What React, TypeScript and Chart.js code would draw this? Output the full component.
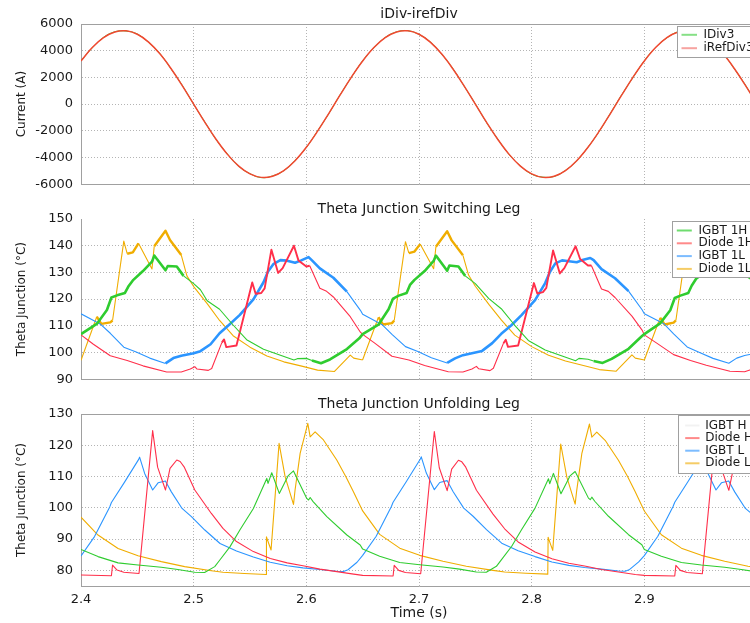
import React, { useEffect, useRef } from 'react';
import { Chart, registerables } from 'chart.js';
Chart.register(...registerables);

const FONT = "'DejaVu Sans', Verdana, sans-serif";
const TEXT = '#1a1a1a';
const GRID = '#b4b4b4';
const AXIS = '#a0a0a0';
Chart.defaults.font.family = FONT;

// ---------- axes ----------
const xTicks = [2.4, 2.5, 2.6, 2.7, 2.8, 2.9];
const currentTicks = [-6000, -4000, -2000, 0, 2000, 4000, 6000];
const switchTicks = [90, 100, 110, 120, 130, 140, 150];
const unfoldTicks = [80, 90, 100, 110, 120, 130];

// ---------- panel 1 : iDiv-irefDiv ----------
const currentTime = [
  2.40, 2.41, 2.42, 2.43, 2.44, 2.45, 2.46, 2.47, 2.48, 2.49, 2.50, 2.51, 2.52, 2.53, 2.54, 2.55, 2.56, 2.57, 2.58, 2.59,
  2.60, 2.61, 2.62, 2.63, 2.64, 2.65, 2.66, 2.67, 2.68, 2.69, 2.70, 2.71, 2.72, 2.73, 2.74, 2.75, 2.76, 2.77, 2.78, 2.79,
  2.80, 2.81, 2.82, 2.83, 2.84, 2.85, 2.86, 2.87, 2.88, 2.89, 2.90, 2.91, 2.92, 2.93, 2.94, 2.95, 2.96, 2.97, 2.98, 2.99, 3.00,
];
const iRefDiv3 = [
  3233, 4238, 4976, 5403, 5489, 5231, 4644, 3765, 2650, 1368, 0, -1368, -2650, -3765, -4644, -5231, -5489, -5403, -4976, -4238,
  -3233, -2025, -689, 689, 2025, 3233, 4238, 4976, 5403, 5489, 5231, 4644, 3765, 2650, 1368, 0, -1368, -2650, -3765, -4644,
  -5231, -5489, -5403, -4976, -4238, -3233, -2025, -689, 689, 2025, 3233, 4238, 4976, 5403, 5489, 5231, 4644, 3765, 2650, 1368, 0,
];
const iDiv3 = [
  3260, 4210, 5000, 5420, 5470, 5250, 4620, 3790, 2630, 1390, -20, -1350, -2670, -3740, -4660, -5210, -5510, -5380, -4990, -4220,
  -3250, -2000, -710, 700, 2010, 3250, 4220, 4990, 5410, 5500, 5220, 4660, 3750, 2670, 1350, 20, -1390, -2630, -3780, -4630,
  -5250, -5470, -5420, -4960, -4250, -3220, -2040, -670, 710, 2000, 3250, 4250, 4960, 5420, 5470, 5250, 4630, 3780, 2630, 1390, -20,
];

// ---------- panel 2 : Theta Junction Switching Leg ----------
const igbt1hT = [
  2.400, 2.414, 2.423, 2.427, 2.432, 2.439, 2.442, 2.446, 2.455, 2.463, 2.465, 2.475, 2.477, 2.485, 2.491, 2.500, 2.506, 2.512, 2.523, 2.535, 2.547, 2.562, 2.577, 2.589, 2.592, 2.600, 2.605, 2.613, 2.621, 2.636, 2.647,
  2.650, 2.664, 2.673, 2.677, 2.682, 2.689, 2.692, 2.696, 2.705, 2.713, 2.715, 2.725, 2.727, 2.735, 2.741, 2.750, 2.756, 2.762, 2.773, 2.785, 2.797, 2.812, 2.827, 2.839, 2.842, 2.850, 2.855, 2.863, 2.871, 2.886, 2.897,
  2.900, 2.914, 2.923, 2.927, 2.932, 2.939, 2.942, 2.946, 2.955, 2.963, 2.965, 2.975, 2.977, 2.985, 2.991, 3.000,
];
const igbt1hV = [
  106.9, 110.7, 115.9, 120.6, 121.4, 122.3, 124.7, 127.0, 130.5, 134.0, 136.3, 130.8, 132.4, 132.2, 128.7, 125.8, 123.5, 119.4, 116.2, 110.3, 104.8, 101.2, 99.0, 97.2, 97.7, 97.8, 97.0, 96.0, 97.4, 101.3, 105.3,
  106.9, 110.4, 116.2, 120.2, 121.3, 122.3, 125.3, 127.2, 130.5, 134.3, 136.3, 130.6, 132.6, 132.2, 128.7, 125.8, 123.0, 120.2, 116.4, 110.2, 104.5, 100.9, 98.7, 96.9, 97.8, 97.5, 96.8, 96.1, 97.6, 101.4, 105.8,
  106.9, 110.9, 115.8, 120.4, 121.3, 122.3, 125.0, 127.6, 130.6, 134.1, 136.2, 130.8, 132.5, 132.2, 128.4, 125.8,
];
const diode1hT = [
  2.400, 2.411, 2.426, 2.441, 2.455, 2.476, 2.489, 2.497, 2.501, 2.503, 2.513, 2.516, 2.525, 2.527, 2.529, 2.538, 2.552, 2.555, 2.560, 2.563, 2.569, 2.575, 2.579, 2.589, 2.593, 2.600, 2.603, 2.612, 2.618, 2.624, 2.639, 2.648,
  2.650, 2.661, 2.676, 2.691, 2.705, 2.726, 2.739, 2.747, 2.751, 2.753, 2.763, 2.766, 2.775, 2.777, 2.779, 2.788, 2.802, 2.805, 2.810, 2.813, 2.819, 2.825, 2.829, 2.839, 2.843, 2.850, 2.853, 2.862, 2.868, 2.874, 2.889, 2.898,
  2.900, 2.911, 2.926, 2.941, 2.955, 2.976, 2.989, 2.997, 3.000,
];
const diode1hV = [
  106.6, 103.1, 98.8, 97.0, 95.0, 92.7, 92.7, 93.8, 94.7, 93.8, 93.3, 94.0, 103.7, 104.9, 102.0, 102.6, 126.2, 122.0, 122.3, 124.0, 138.5, 129.8, 131.6, 140.0, 134.5, 132.2, 132.5, 124.1, 122.9, 120.8, 113.4, 107.6,
  106.8, 103.4, 98.6, 97.2, 95.1, 92.8, 92.7, 93.8, 94.8, 93.9, 93.2, 94.1, 103.5, 104.8, 102.1, 102.6, 126.0, 122.1, 122.6, 124.2, 138.2, 129.6, 131.6, 139.8, 135.0, 132.6, 132.6, 123.8, 122.9, 120.6, 113.6, 108.4,
  106.6, 103.5, 99.2, 97.0, 95.2, 93.0, 92.8, 93.9, 94.5,
];
const igbt1lT = [
  2.400, 2.417, 2.426, 2.438, 2.449, 2.461, 2.475, 2.482, 2.489, 2.500, 2.506, 2.515, 2.523, 2.532, 2.541, 2.553, 2.562, 2.566, 2.571, 2.577, 2.583, 2.590, 2.595, 2.602, 2.605, 2.612, 2.624, 2.636, 2.648,
  2.650, 2.667, 2.676, 2.688, 2.699, 2.711, 2.725, 2.732, 2.739, 2.750, 2.756, 2.765, 2.773, 2.782, 2.791, 2.803, 2.812, 2.816, 2.821, 2.827, 2.833, 2.840, 2.845, 2.852, 2.855, 2.862, 2.874, 2.886, 2.898,
  2.900, 2.917, 2.926, 2.938, 2.949, 2.961, 2.975, 2.982, 2.989, 3.000,
];
const igbt1lV = [
  114.5, 110.7, 107.2, 102.0, 100.2, 97.9, 95.9, 97.9, 98.8, 99.7, 100.5, 103.1, 107.2, 110.6, 114.1, 119.9, 126.3, 130.3, 133.2, 134.6, 134.4, 133.6, 134.4, 135.7, 134.5, 131.5, 128.0, 122.8, 115.8,
  114.3, 110.5, 106.8, 102.2, 100.4, 98.0, 96.1, 97.8, 99.0, 100.0, 100.6, 103.5, 107.0, 110.2, 114.0, 119.6, 126.0, 130.0, 133.4, 134.5, 134.2, 133.8, 134.6, 135.4, 134.6, 131.2, 127.8, 123.0, 116.0,
  114.5, 110.9, 107.0, 102.1, 100.0, 97.8, 96.0, 97.9, 98.9, 99.8,
];
const diode1lT = [
  2.400, 2.414, 2.418, 2.426, 2.428, 2.438, 2.441, 2.446, 2.451, 2.463, 2.465, 2.475, 2.479, 2.489, 2.494, 2.500, 2.512, 2.523, 2.535, 2.550, 2.565, 2.580, 2.595, 2.610, 2.625, 2.639, 2.642, 2.649,
  2.650, 2.664, 2.668, 2.676, 2.678, 2.688, 2.691, 2.696, 2.701, 2.713, 2.715, 2.725, 2.729, 2.739, 2.744, 2.750, 2.762, 2.773, 2.785, 2.800, 2.815, 2.830, 2.845, 2.860, 2.875, 2.889, 2.892, 2.899,
  2.900, 2.914, 2.918, 2.926, 2.928, 2.938, 2.941, 2.946, 2.951, 2.963, 2.965, 2.975, 2.979, 2.989, 2.994, 3.000,
];
const diode1lV = [
  97.1, 113.4, 110.7, 111.3, 112.0, 141.7, 137.0, 137.5, 140.9, 131.3, 139.8, 145.6, 142.1, 136.5, 128.7, 124.7, 118.3, 112.0, 106.3, 102.0, 98.7, 96.5, 95.0, 93.4, 92.9, 99.0, 97.9, 97.3,
  97.3, 113.2, 110.5, 111.0, 112.0, 141.5, 137.2, 137.8, 140.6, 131.4, 139.6, 145.4, 142.0, 136.4, 129.0, 124.8, 118.0, 112.2, 106.5, 102.2, 99.0, 96.8, 95.2, 93.6, 93.0, 99.1, 97.9, 97.3,
  97.2, 113.0, 110.5, 111.2, 112.0, 141.6, 137.0, 137.6, 140.7, 131.3, 139.7, 145.5, 142.0, 136.5, 128.8, 124.7,
];

// ---------- panel 3 : Theta Junction Unfolding Leg ----------
const igbtHT = [
  2.400, 2.4151, 2.4329, 2.4506, 2.4713, 2.486, 2.5009, 2.5097, 2.5187, 2.5234, 2.5323, 2.541, 2.553, 2.5649, 2.566, 2.5693, 2.576, 2.5812, 2.584, 2.5886, 2.6004, 2.602, 2.6034, 2.606, 2.6182, 2.636, 2.6478,
  2.650, 2.6651, 2.6829, 2.7006, 2.7213, 2.736, 2.7509, 2.7597, 2.7687, 2.7734, 2.7823, 2.791, 2.803, 2.8149, 2.816, 2.8193, 2.826, 2.8312, 2.834, 2.8386, 2.8504, 2.852, 2.8534, 2.856, 2.8682, 2.886, 2.8978,
  2.900, 2.9151, 2.9329, 2.9506, 2.9713, 2.986, 3.000,
];
const igbtHV = [
  86.7, 84.4, 82.4, 81.7, 81.0, 80.3, 79.4, 79.3, 81.2, 83.4, 87.6, 92.9, 99.8, 109.4, 107.8, 111.2, 104.6, 108.3, 110.3, 111.8, 103.0, 102.5, 103.3, 102.0, 97.2, 91.3, 88.1,
  86.8, 84.5, 82.5, 81.8, 81.1, 80.4, 79.5, 79.4, 81.3, 83.5, 87.7, 93.0, 99.9, 109.3, 107.7, 111.0, 104.5, 108.2, 110.2, 111.6, 103.1, 102.6, 103.4, 102.1, 97.3, 91.4, 88.2,
  86.7, 84.5, 82.5, 81.7, 81.0, 80.3, 79.5,
];
const diodeHT = [
  2.400, 2.427, 2.428, 2.432, 2.438, 2.4515, 2.4636, 2.468, 2.475, 2.479, 2.485, 2.488, 2.4915, 2.501, 2.5157, 2.526, 2.538, 2.553, 2.568, 2.583, 2.597, 2.612, 2.627, 2.642,
  2.650, 2.677, 2.678, 2.682, 2.688, 2.7015, 2.7136, 2.718, 2.725, 2.729, 2.735, 2.738, 2.7415, 2.751, 2.7657, 2.776, 2.788, 2.803, 2.818, 2.833, 2.847, 2.862, 2.877, 2.892,
  2.900, 2.927, 2.928, 2.932, 2.938, 2.9515, 2.9636, 2.968, 2.975, 2.979, 2.985, 2.988, 2.9915, 3.000,
];
const diodeHV = [
  78.5, 78.3, 81.7, 80.1, 79.4, 79.0, 124.7, 113.0, 105.7, 112.6, 115.3, 114.8, 113.1, 105.7, 98.2, 93.4, 89.2, 86.0, 83.8, 82.4, 81.5, 80.4, 79.6, 78.8,
  78.4, 78.2, 81.6, 80.0, 79.3, 78.9, 124.4, 112.8, 105.5, 112.4, 115.2, 114.7, 113.0, 105.6, 98.0, 93.3, 89.1, 85.9, 83.7, 82.3, 81.4, 80.3, 79.5, 78.7,
  78.4, 78.2, 81.6, 80.0, 79.3, 78.9, 124.6, 113.0, 105.6, 112.5, 115.2, 114.7, 113.0, 106.5,
];
const igbtLT = [
  2.400, 2.412, 2.4255, 2.427, 2.4388, 2.4512, 2.452, 2.4565, 2.4636, 2.4684, 2.4749, 2.4802, 2.4897, 2.498, 2.5099, 2.5234, 2.538, 2.553, 2.568, 2.583, 2.597, 2.612, 2.627, 2.633, 2.637, 2.645,
  2.650, 2.662, 2.6755, 2.677, 2.6888, 2.7012, 2.702, 2.7065, 2.7136, 2.7184, 2.7249, 2.7302, 2.7397, 2.748, 2.7599, 2.7734, 2.788, 2.803, 2.818, 2.833, 2.847, 2.862, 2.877, 2.883, 2.887, 2.895,
  2.900, 2.912, 2.9255, 2.927, 2.9388, 2.9512, 2.952, 2.9565, 2.9636, 2.9684, 2.9749, 2.9802, 2.9897, 3.000,
];
const igbtLV = [
  84.6, 90.8, 100.3, 101.7, 108.3, 115.5, 116.2, 111.0, 105.7, 108.0, 108.6, 105.1, 99.8, 97.2, 92.9, 88.6, 86.2, 84.3, 82.6, 81.5, 80.8, 80.3, 79.7, 79.6, 80.2, 82.6,
  84.8, 90.9, 100.4, 101.8, 108.4, 115.6, 116.3, 111.1, 105.8, 108.1, 108.7, 105.2, 99.9, 97.3, 93.0, 88.7, 86.3, 84.4, 82.7, 81.6, 80.9, 80.4, 79.8, 79.7, 80.3, 82.7,
  84.7, 90.9, 100.4, 101.8, 108.4, 115.5, 116.2, 111.0, 105.7, 108.0, 108.6, 105.1, 99.8, 96.7,
];
const diodeLT = [
  2.400, 2.4151, 2.4329, 2.4506, 2.4713, 2.492, 2.5157, 2.526, 2.545, 2.5643, 2.5646, 2.5667, 2.5687, 2.5758, 2.5812, 2.5886, 2.590, 2.5945, 2.6013, 2.6034, 2.6078, 2.6152, 2.627, 2.635, 2.6418,
  2.650, 2.6651, 2.6829, 2.7006, 2.7213, 2.742, 2.7657, 2.776, 2.795, 2.8143, 2.8146, 2.8167, 2.8187, 2.8258, 2.8312, 2.8386, 2.840, 2.8445, 2.8513, 2.8534, 2.8578, 2.8652, 2.877, 2.885, 2.8918,
  2.900, 2.9151, 2.9329, 2.9506, 2.9713, 2.992, 3.000,
];
const diodeLV = [
  97.0, 91.3, 87.0, 84.7, 82.8, 81.2, 79.9, 79.4, 79.0, 78.7, 90.7, 88.5, 86.5, 120.6, 109.9, 101.1, 105.7, 117.4, 127.0, 122.7, 124.3, 121.7, 115.3, 110.0, 105.1,
  99.0, 91.5, 87.1, 84.8, 82.9, 81.3, 80.0, 79.5, 79.1, 78.8, 90.6, 88.4, 86.4, 120.4, 109.8, 101.2, 105.6, 117.3, 126.8, 122.6, 124.2, 121.6, 115.2, 110.1, 105.2,
  99.0, 91.4, 87.1, 84.8, 82.9, 81.3, 80.9,
];

// ---------- styles ----------
const C_GREEN = '#2fcc2f';
const C_RED = '#ff2f4a';
const C_BLUE = '#2b95ff';
const C_ORANGE = '#f0ad00';

// ranges where the switching-leg traces look thick (ripple)
const thickGreen = [[2.405, 2.494], [2.607, 2.745], [2.857, 2.995]];
const thickRed = [[2.525, 2.605], [2.775, 2.855]];
const thickBlue = [[2.476, 2.640], [2.726, 2.890]];
const thickOrange = [[2.412, 2.43], [2.44, 2.453], [2.465, 2.484], [2.662, 2.68], [2.69, 2.703], [2.715, 2.734], [2.912, 2.93], [2.94, 2.953], [2.965, 2.984]];

const pts = (t: number[], v: number[]) => t.map((x, i) => ({ x, y: v[i] }));

const segWidth = (ranges: number[][], thick: number, thin: number) => (c: any) => {
  const m = (c.p0.parsed.x + c.p1.parsed.x) / 2;
  return ranges.some(([a, b]) => m >= a && m <= b) ? thick : thin;
};

type LegendCfg = {
  items: { label: string; color: string }[];
  dx: number; dy: number; h: number; first: number; gap: number; s0: number; s1: number; tx: number;
};
type Decor = { title: string; titleY: number; topBorder: boolean; legend: LegendCfg };

function decorPlugin(d: Decor) {
  return {
    id: 'decor',
    beforeDatasetsDraw(chart: any) {
      if (!d.topBorder) return;
      const { ctx, chartArea: a } = chart;
      ctx.save();
      ctx.setLineDash([]);
      ctx.strokeStyle = AXIS;
      ctx.lineWidth = 1;
      ctx.beginPath();
      const y = Math.round(a.top) + 0.5;
      ctx.moveTo(a.left, y);
      ctx.lineTo(a.right, y);
      ctx.stroke();
      ctx.restore();
    },
    afterDraw(chart: any) {
      const { ctx, chartArea: a } = chart;
      ctx.save();
      ctx.fillStyle = TEXT;
      ctx.font = `14px ${FONT}`;
      ctx.textAlign = 'center';
      ctx.textBaseline = 'middle';
      ctx.fillText(d.title, (a.left + a.right) / 2, d.titleY);
      const L = d.legend;
      const left = Math.round(a.right + L.dx) + 0.5;
      const top = Math.round(a.top + L.dy) + 0.5;
      const w = a.right + 4 - left;
      ctx.fillStyle = '#ffffff';
      ctx.fillRect(left, top, w, L.h);
      ctx.strokeStyle = AXIS;
      ctx.lineWidth = 1;
      ctx.strokeRect(left, top, w, L.h);
      ctx.font = `12px ${FONT}`;
      ctx.textAlign = 'left';
      L.items.forEach((it, i) => {
        const y = top + L.first + i * L.gap;
        ctx.strokeStyle = it.color;
        ctx.lineWidth = 2;
        ctx.beginPath();
        ctx.moveTo(left + L.s0, y);
        ctx.lineTo(left + L.s1, y);
        ctx.stroke();
        ctx.fillStyle = TEXT;
        ctx.fillText(it.label, left + L.tx, y);
      });
      ctx.restore();
    },
  };
}

function xScale(showLabels: boolean) {
  return {
    type: 'linear',
    min: 2.4,
    max: 3.0,
    afterBuildTicks: (s: any) => { s.ticks = xTicks.map((v) => ({ value: v })); },
    afterFit: (s: any) => { s.height = showLabels ? 37 : 0; },
    grid: { color: GRID, drawTicks: false, lineWidth: 1 },
    border: { display: true, color: AXIS, dash: [1, 2] },
    ticks: {
      display: showLabels, padding: 6, color: TEXT, maxRotation: 0, autoSkip: false,
      font: { family: FONT, size: 13 },
      callback: (v: any) => Number(v).toFixed(1),
    },
    title: {
      display: showLabels, text: 'Time (s)', color: TEXT,
      font: { family: FONT, size: 14 }, padding: { top: 0, bottom: 1 },
    },
  };
}

function yScale(min: number, max: number, ticks: number[], title: string, hideTop: boolean) {
  return {
    type: 'linear',
    min, max,
    afterBuildTicks: (s: any) => { s.ticks = ticks.map((v) => ({ value: v })); },
    afterFit: (s: any) => { s.width = 81; },
    grid: {
      color: (c: any) => (hideTop && c.tick && c.tick.value === max ? 'rgba(0,0,0,0)' : GRID),
      drawTicks: false, lineWidth: 1,
    },
    border: { display: true, color: AXIS, dash: [1, 2] },
    ticks: { padding: 8, color: TEXT, font: { family: FONT, size: 13 }, callback: (v: any) => String(v) },
    title: {
      display: true, text: title, color: TEXT,
      font: { family: FONT, size: 12 }, padding: { top: 15, bottom: 0 },
    },
  };
}

function baseOptions(padTop: number, padBottom: number, x: any, y: any) {
  return {
    responsive: false,
    animation: false,
    events: [],
    layout: { padding: { left: 0, right: 13, top: padTop, bottom: padBottom } },
    plugins: { legend: { display: false }, tooltip: { enabled: false }, title: { display: false } },
    elements: { point: { radius: 0 }, line: { borderJoinStyle: 'round', tension: 0 } },
    scales: { x, y },
  };
}

function config1(): any {
  return {
    type: 'line',
    data: {
      datasets: [
        { label: 'iRefDiv3', data: pts(currentTime, iRefDiv3), borderColor: '#f04830', borderWidth: 1.5, tension: 0.4, fill: false, order: 0 },
        { label: 'IDiv3', data: pts(currentTime, iDiv3), borderColor: '#3cc83c', borderWidth: 1.0, tension: 0.4, fill: false, order: 1 },
      ],
    },
    options: baseOptions(24, 4, xScale(false), yScale(-6000, 6000, currentTicks, 'Current (A)', false)),
    plugins: [decorPlugin({
      title: 'iDiv-irefDiv', titleY: 14.5, topBorder: true,
      legend: {
        items: [{ label: 'IDiv3', color: '#86e086' }, { label: 'iRefDiv3', color: '#f7a3a0' }],
        dx: -80, dy: 2, h: 31, first: 8.3, gap: 13.4, s0: 4, s1: 19.5, tx: 26,
      },
    })],
  };
}

function config2(): any {
  return {
    type: 'line',
    data: {
      datasets: [
        { label: 'IGBT 1H', data: pts(igbt1hT, igbt1hV), borderColor: C_GREEN, borderWidth: 1.1, fill: false, segment: { borderWidth: segWidth(thickGreen, 2.6, 1.1) } },
        { label: 'Diode 1H', data: pts(diode1hT, diode1hV), borderColor: C_RED, borderWidth: 1.1, fill: false, segment: { borderWidth: segWidth(thickRed, 1.9, 1.1) } },
        { label: 'IGBT 1L', data: pts(igbt1lT, igbt1lV), borderColor: C_BLUE, borderWidth: 1.1, fill: false, segment: { borderWidth: segWidth(thickBlue, 2.6, 1.1) } },
        { label: 'Diode 1L', data: pts(diode1lT, diode1lV), borderColor: C_ORANGE, borderWidth: 1.1, fill: false, segment: { borderWidth: segWidth(thickOrange, 2.4, 1.1) } },
      ],
    },
    options: baseOptions(19, 4, xScale(false), yScale(90, 150, switchTicks, 'Theta Junction (°C)', true)),
    plugins: [decorPlugin({
      title: 'Theta Junction Switching Leg', titleY: 9, topBorder: false,
      legend: {
        items: [
          { label: 'IGBT 1H', color: '#6fdc6f' },
          { label: 'Diode 1H', color: '#ff8a8a' },
          { label: 'IGBT 1L', color: '#7cbcff' },
          { label: 'Diode 1L', color: '#f5cc66' },
        ],
        dx: -85, dy: 2, h: 56, first: 9, gap: 12.8, s0: 4.3, s1: 19.3, tx: 26,
      },
    })],
  };
}

function config3(): any {
  return {
    type: 'line',
    data: {
      datasets: [
        { label: 'IGBT H', data: pts(igbtHT, igbtHV), borderColor: C_GREEN, borderWidth: 1.1, fill: false },
        { label: 'Diode H', data: pts(diodeHT, diodeHV), borderColor: C_RED, borderWidth: 1.1, fill: false },
        { label: 'IGBT L', data: pts(igbtLT, igbtLV), borderColor: C_BLUE, borderWidth: 1.1, fill: false },
        { label: 'Diode L', data: pts(diodeLT, diodeLV), borderColor: C_ORANGE, borderWidth: 1.1, fill: false },
      ],
    },
    options: baseOptions(19, 0, xScale(true), yScale(75, 130, unfoldTicks, 'Theta Junction (°C)', false)),
    plugins: [decorPlugin({
      title: 'Theta Junction Unfolding Leg', titleY: 9, topBorder: true,
      legend: {
        items: [
          { label: 'IGBT H', color: '#f2f2f2' },
          { label: 'Diode H', color: '#ff8a8a' },
          { label: 'IGBT L', color: '#7cbcff' },
          { label: 'Diode L', color: '#f5cc66' },
        ],
        dx: -78.7, dy: 1, h: 58, first: 10, gap: 12.6, s0: 6.7, s1: 21, tx: 26.7,
      },
    })],
  };
}

function Panel({ top, height, make }: { top: number; height: number; make: () => any }) {
  const ref = useRef<HTMLCanvasElement>(null);
  useEffect(() => {
    const chart = new Chart(ref.current as HTMLCanvasElement, make());
    return () => chart.destroy();
  }, []);
  return (
    <canvas
      ref={ref}
      width={770}
      height={height}
      style={{ position: 'absolute', left: 0, top, width: 770, height, display: 'block' }}
    />
  );
}

export default function App() {
  return (
    <div style={{ position: 'absolute', left: 0, top: 0, width: 750, height: 623, overflow: 'hidden', background: '#ffffff' }}>
      <Panel top={0} height={200} make={config1} />
      <Panel top={200} height={195} make={config2} />
      <Panel top={395} height={228} make={config3} />
    </div>
  );
}
